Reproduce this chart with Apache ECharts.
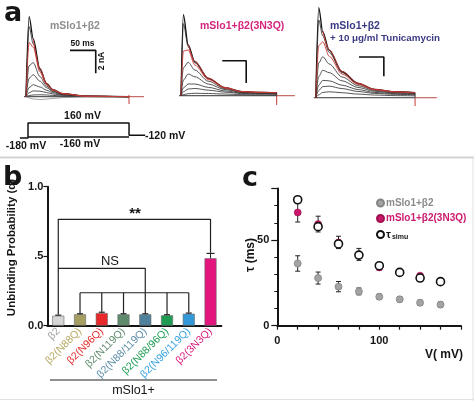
<!DOCTYPE html>
<html><head><meta charset="utf-8">
<script src="https://cdn.jsdelivr.net/npm/echarts/dist/echarts.min.js"></script>
<style>html,body{margin:0;padding:0;background:#fff}#c{width:474px;height:401px}</style>
</head><body><div id="c"></div>
<script>
// ---------- Panel a: current traces (ms, nA) ----------
const P1_T = [0, 6, 14, 27, 40, 52, 72, 116, 200];
const P1_TRACES = [
  [0, 6.96, 5.04, 2.43, 1.13, 0.61, 0.26, 0.04, 0],
  [0, 6.10, 4.60, 2.30, 1.08, 0.58, 0.25, 0.04, 0],
  [0, 2.70, 2.96, 1.75, 0.92, 0.50, 0.22, 0.04, 0],
  [0, 1.60, 1.91, 1.35, 0.78, 0.44, 0.20, 0.04, 0],
  [0, 0.80, 1.04, 0.85, 0.56, 0.35, 0.17, 0.03, 0],
  [0, 0.35, 0.50, 0.48, 0.36, 0.24, 0.13, 0.03, 0],
  [0, 0.10, 0.15, 0.17, 0.15, 0.11, 0.07, 0.02, 0],
  [0, -0.10, -0.20, -0.25, -0.20, -0.15, -0.08, -0.02, 0]
];
const P1_RED = [
  [0, 4.70, 4.30, 2.15, 1.05, 0.56, 0.24, 0.04, 0],
  [null, null, 5.00, 2.45, 1.15, 0.62, 0.27, 0.05, 0]
];
const P2_T = [0, 5, 15, 29, 57, 92, 127, 165, 200];
const P2_TRACES = [
  [0, 7.26, 4.55, 3.05, 1.56, 0.72, 0.36, 0.30, 0.27],
  [0, 6.46, 4.40, 2.95, 1.52, 0.71, 0.36, 0.30, 0.27],
  [0, 2.50, 3.00, 2.30, 1.30, 0.63, 0.33, 0.27, 0.24],
  [0, 1.40, 1.95, 1.70, 1.05, 0.55, 0.30, 0.25, 0.22],
  [0, 0.70, 1.05, 1.05, 0.75, 0.43, 0.25, 0.20, 0.18],
  [0, 0.35, 0.60, 0.65, 0.50, 0.32, 0.20, 0.16, 0.14],
  [0, 0.10, 0.18, 0.22, 0.20, 0.15, 0.10, 0.08, 0.07]
];
const P2_RED = [
  [0, 4.00, 4.10, 2.75, 1.45, 0.68, 0.35, 0.29, 0.26],
  [null, null, 4.60, 3.08, 1.58, 0.74, 0.38, 0.31, 0.28]
];
const P3_T = [0, 6, 14, 27, 53, 85, 118, 160, 200];
const P3_TRACES = [
  [0, 9.33, 6.84, 4.94, 2.69, 1.49, 0.87, 0.62, 0.52],
  [0, 8.05, 6.40, 4.70, 2.60, 1.45, 0.85, 0.61, 0.51],
  [0, 3.60, 4.25, 3.50, 2.15, 1.25, 0.76, 0.55, 0.47],
  [0, 2.20, 2.85, 2.60, 1.75, 1.07, 0.67, 0.50, 0.43],
  [0, 1.30, 1.80, 1.75, 1.30, 0.85, 0.55, 0.42, 0.37],
  [0, 0.75, 1.15, 1.20, 0.95, 0.65, 0.45, 0.35, 0.31],
  [0, 0.30, 0.55, 0.62, 0.52, 0.38, 0.28, 0.22, 0.20]
];
const P3_RED = [
  [0, 5.40, 5.80, 4.30, 2.45, 1.38, 0.82, 0.59, 0.50],
  [null, null, 6.90, 4.98, 2.72, 1.51, 0.88, 0.63, 0.53]
];
const STEP_MS = 200;
const TAIL_END = [229, 238, 244];
const TAIL_SPIKE = [[0.15, -0.64], [0, -0.83], [0, -0.86]];
// scale bars: 50 ms, 2 nA ; anchor (ms, nA) of the left end
const SCALE_BAR_MS = 50, SCALE_BAR_NA = 2;
const SCALE_ANCHOR = [[85.4, 4.03], [86.3, 3.14], [87.1, 4.22]];
// voltage protocol (ms, mV)
const PROT_T = [-16, 0, 0, 200, 200, 232];
const PROT_V = [-180, -180, 160, 160, -120, -120];
const PROT_LOW = -160;

// ---------- Panel b ----------
const CATS = ['β2','β2(N88Q)','β2(N96Q)','β2(N119Q)','β2(N88/119Q)','β2(N88/96Q)','β2(N96/119Q)','β2(3N3Q)'];
const Q_VALUES = [0.072, 0.082, 0.091, 0.082, 0.082, 0.075, 0.086, 0.485];
const Q_ERRORS = [0.004, 0.004, 0.006, 0.004, 0.004, 0.004, 0.005, 0.035];
const BAR_COLORS = ['#d6d6d6','#a59e63','#e8282a','#5f8b6d','#4f809c','#1e9d52','#3399d8','#e3167e'];
const LABEL_COLORS = ['#a0a0a0','#b5a862','#e52b2b','#5f8b6d','#5d8da8','#1e9d52','#3aa2de','#d8167b'];
const SIG_STAR_LEVEL = 0.765, NS_UPPER_LEVEL = 0.413, NS_LOWER_LEVEL = 0.237;

// ---------- Panel c ----------
const V_MV = [20, 40, 60, 80, 100, 120, 140, 160];
const TAU_WT = [36.3, 27.8, 22.8, 20.0, 16.9, 15.4, 13.4, 12.3];
const TAU_WT_ERR = [4.5, 3.5, 3.0, 2.0, 1.5, 1.5, 1.5, 1.5];
const TAU_3N3Q = [66.1, 59.3, 48.6, 41.6, 34.0, 31.1, 29.2, 25.8];
const TAU_3N3Q_ERR = [5.6, 4.6, 3.6, 3.5, 1.5, 1.2, 1.0, 1.0];
const TAU_SIMU = [73.5, 57.8, 47.7, 41.2, 35.0, 31.1, 27.8, 25.7];

const F = '"Liberation Sans", Arial, sans-serif';
const BLACK = '#151515';
const series = [];

function pairs(t, v) { return t.map((x, i) => [x, v[i]]); }

function tracePanel(g, T, traces, reds, tailEnd, spike, anchor) {
  traces.forEach((tr, k) => {
    series.push({ type: 'line', xAxisIndex: g, yAxisIndex: g, data: pairs(T, tr), symbol: 'none', smooth: 0.3, smoothMonotone: 'x',
      lineStyle: { color: k === 0 ? '#111' : (tr[3] < 0 ? '#888' : '#2a2a2a'), width: k === 0 ? 1.3 : 0.8 }, silent: true, z: 3 });
  });
  reds.forEach(tr => {
    series.push({ type: 'line', xAxisIndex: g, yAxisIndex: g, data: pairs(T, tr), symbol: 'none', smooth: 0.3, smoothMonotone: 'x',
      lineStyle: { color: '#cc3a35', width: 0.9 }, silent: true, z: 4 });
  });
  const endVal = traces[0][traces[0].length - 1];
  series.push({ type: 'line', xAxisIndex: g, yAxisIndex: g, symbol: 'none', silent: true, z: 2,
    data: [[-4, 0], [STEP_MS, 0], [STEP_MS, endVal]], lineStyle: { color: '#333', width: 1 } });
  series.push({ type: 'line', xAxisIndex: g, yAxisIndex: g, symbol: 'none', silent: true, z: 2,
    data: [[STEP_MS, 0], [tailEnd, 0]], lineStyle: { color: '#b54a45', width: 1 } });
  series.push({ type: 'line', xAxisIndex: g, yAxisIndex: g, symbol: 'none', silent: true, z: 2,
    data: [[STEP_MS, spike[0]], [STEP_MS, spike[1]]], lineStyle: { color: '#c23a35', width: 1 } });
  series.push({ type: 'line', xAxisIndex: g, yAxisIndex: g, symbol: 'none', silent: true, z: 5,
    data: [[anchor[0], anchor[1]], [anchor[0] + SCALE_BAR_MS, anchor[1]], [anchor[0] + SCALE_BAR_MS, anchor[1] - SCALE_BAR_NA]],
    lineStyle: { color: '#111', width: 1.6 } });
}
tracePanel(0, P1_T, P1_TRACES, P1_RED, TAIL_END[0], TAIL_SPIKE[0], SCALE_ANCHOR[0]);
tracePanel(1, P2_T, P2_TRACES, P2_RED, TAIL_END[1], TAIL_SPIKE[1], SCALE_ANCHOR[1]);
tracePanel(2, P3_T, P3_TRACES, P3_RED, TAIL_END[2], TAIL_SPIKE[2], SCALE_ANCHOR[2]);

// protocol
series.push({ type: 'line', xAxisIndex: 3, yAxisIndex: 3, symbol: 'none', silent: true,
  data: pairs(PROT_T, PROT_V), lineStyle: { color: '#111', width: 1.5 } });
series.push({ type: 'line', xAxisIndex: 3, yAxisIndex: 3, symbol: 'none', silent: true,
  data: [[0, PROT_LOW], [STEP_MS, PROT_LOW]], lineStyle: { color: '#111', width: 1.5 } });

// panel b bars
series.push({ type: 'bar', xAxisIndex: 4, yAxisIndex: 4, barWidth: 12, silent: true,
  data: Q_VALUES.map((v, i) => ({ value: v, itemStyle: { color: BAR_COLORS[i], borderColor: '#6a6a6a', borderWidth: 0.6 } })) });
series.push({ type: 'custom', xAxisIndex: 4, yAxisIndex: 4, silent: true, z: 6,
  data: Q_VALUES.map((v, i) => [i, v, Q_ERRORS[i]]),
  renderItem: (p, api) => {
    const i = api.value(0), v = api.value(1), e = api.value(2);
    const a = api.coord([i, v]), b = api.coord([i, v + e]);
    const w = i === 7 ? 4 : 3;
    return { type: 'group', children: [
      { type: 'line', shape: { x1: a[0], y1: a[1], x2: b[0], y2: b[1] }, style: { stroke: '#222', lineWidth: 1 } },
      { type: 'line', shape: { x1: b[0] - w, y1: b[1], x2: b[0] + w, y2: b[1] }, style: { stroke: '#222', lineWidth: 1.2 } }
    ] };
  } });
function bracket(d) {
  series.push({ type: 'line', xAxisIndex: 4, yAxisIndex: 4, symbol: 'none', silent: true, z: 7,
    data: d, lineStyle: { color: '#222', width: 1.2 } });
}
bracket([[0, Q_VALUES[0] + Q_ERRORS[0] + 0.005], [0, SIG_STAR_LEVEL], [7, SIG_STAR_LEVEL], [7, Q_VALUES[7] + Q_ERRORS[7] + 0.005]]);
bracket([[0, NS_UPPER_LEVEL], [3.9, NS_UPPER_LEVEL], [3.9, NS_LOWER_LEVEL]]);
bracket([[1, NS_LOWER_LEVEL], [6, NS_LOWER_LEVEL]]);
for (let i = 1; i <= 6; i++) bracket([[i, NS_LOWER_LEVEL], [i, Q_VALUES[i] + Q_ERRORS[i] + 0.004]]);

// panel c
function errSeries(vals, errs, z) {
  series.push({ type: 'custom', xAxisIndex: 5, yAxisIndex: 5, silent: true, z: z,
    data: V_MV.map((x, i) => [x, vals[i], errs[i]]),
    renderItem: (p, api) => {
      const x = api.value(0), y = api.value(1), e = api.value(2);
      const a = api.coord([x, y + e]), b = api.coord([x, y - e]);
      const w = 2.5;
      return { type: 'group', children: [
        { type: 'line', shape: { x1: a[0], y1: a[1], x2: b[0], y2: b[1] }, style: { stroke: '#222', lineWidth: 1 } },
        { type: 'line', shape: { x1: a[0] - w, y1: a[1], x2: a[0] + w, y2: a[1] }, style: { stroke: '#222', lineWidth: 1 } },
        { type: 'line', shape: { x1: b[0] - w, y1: b[1], x2: b[0] + w, y2: b[1] }, style: { stroke: '#222', lineWidth: 1 } }
      ] };
    } });
}
errSeries(TAU_WT, TAU_WT_ERR, 3);
errSeries(TAU_3N3Q, TAU_3N3Q_ERR, 3);
series.push({ name: 'mSlo1+β2', type: 'scatter', xAxisIndex: 5, yAxisIndex: 5, symbol: 'circle', symbolSize: 7, z: 4,
  data: pairs(V_MV, TAU_WT), itemStyle: { color: '#a3a3a3', borderColor: '#858585', borderWidth: 0.8, opacity: 1 } });
series.push({ name: 'mSlo1+β2(3N3Q)', type: 'scatter', xAxisIndex: 5, yAxisIndex: 5, symbol: 'circle', symbolSize: 7, z: 4,
  data: pairs(V_MV, TAU_3N3Q), itemStyle: { color: '#c8186b', borderColor: '#a01050', borderWidth: 0.6, opacity: 1 } });
series.push({ name: 'τsimu', type: 'scatter', xAxisIndex: 5, yAxisIndex: 5, symbol: 'circle', symbolSize: 8, z: 5,
  data: pairs(V_MV, TAU_SIMU), itemStyle: { color: '#ffffff', borderColor: '#111', borderWidth: 1.6, opacity: 1 } });

const hiddenX = (g, min, max) => ({ type: 'value', gridIndex: g, min, max, show: false });
const hiddenY = (g, min, max) => ({ type: 'value', gridIndex: g, min, max, show: false });

const axisLineBold = { show: true, lineStyle: { color: BLACK, width: 2 } };

const T = (text, x, y, o) => Object.assign({ type: 'text', x, y, silent: true,
  style: Object.assign({ text, fill: BLACK, font: 'bold 10.5px ' + F, textAlign: 'left', textVerticalAlign: 'middle', verticalAlign: 'middle' }, (o && o.style) || {}) },
  o && o.rotation ? { rotation: o.rotation } : {});
const L = (x1, y1, x2, y2, c, w) => ({ type: 'line', silent: true, shape: { x1, y1, x2, y2 }, style: { stroke: c, lineWidth: w } });

const option = {
  animation: false,
  backgroundColor: '#fff',
  grid: [
    { left: 20.85, top: 10.45, width: 128.75, height: 97.75 },
    { left: 176.2, top: 6.5, width: 124.4, height: 102.6 },
    { left: 310.8, top: 3.13, width: 129.1, height: 106.2 },
    { left: 12.85, top: 121.25, width: 146.5, height: 17.5 },
    { left: 47.4, top: 186.7, width: 174, height: 139 },
    { left: 277.3, top: 188.6, width: 183.6, height: 137.1 }
  ],
  xAxis: [
    hiddenX(0, -10, 240), hiddenX(1, -10, 250), hiddenX(2, -10, 250), hiddenX(3, -30, 260),
    { type: 'category', gridIndex: 4, data: CATS, axisLine: axisLineBold, axisTick: { show: false },
      axisLabel: { rotate: 45, margin: 4, interval: 0, fontFamily: F, fontSize: 10.5, color: (v, i) => LABEL_COLORS[i] } },
    { type: 'value', gridIndex: 5, position: 'bottom', min: 0, max: 180, interval: 20, splitLine: { show: false }, axisLine: axisLineBold,
      axisTick: { show: true, length: 4, lineStyle: { color: BLACK, width: 1.2 } },
      axisLabel: { margin: 10, fontFamily: F, fontSize: 11, fontWeight: 'bold', color: BLACK,
        formatter: v => (v === 0 || v === 100) ? String(v) : '' } }
  ],
  yAxis: [
    hiddenY(0, -1, 7.5), hiddenY(1, -1.2, 8), hiddenY(2, -1.2, 9.8), hiddenY(3, -200, 200),
    { type: 'value', gridIndex: 4, min: 0, max: 1, interval: 0.5, splitLine: { show: false }, axisLine: axisLineBold,
      axisTick: { show: true, length: 4, lineStyle: { color: BLACK, width: 1.2 } },
      axisLabel: { margin: 4, fontFamily: F, fontSize: 11, fontWeight: 'bold', color: BLACK,
        formatter: v => v === 0 ? '0.0' : (v === 0.5 ? '.5' : '1.0') } },
    { type: 'value', gridIndex: 5, position: 'left', min: 0, max: 80, interval: 10, splitLine: { show: false }, axisLine: axisLineBold,
      axisTick: { show: true, length: 3, lineStyle: { color: BLACK, width: 1 } }, axisLabel: { show: false } },
    { type: 'value', gridIndex: 5, position: 'left', offset: 0, min: 0, max: 80, interval: 50, splitLine: { show: false }, axisLine: { show: false },
      axisTick: { show: true, length: 6, lineStyle: { color: BLACK, width: 1.2 } },
      axisLabel: { margin: 8, fontFamily: F, fontSize: 11, fontWeight: 'bold', color: BLACK,
        formatter: v => (v === 0 || v === 50) ? String(v) : '' } }
  ],
  legend: {
    data: [
      { name: 'mSlo1+β2', textStyle: { color: '#8c8c8c' } },
      { name: 'mSlo1+β2(3N3Q)', textStyle: { color: '#cc1a6e' } },
      { name: 'τsimu', textStyle: { color: BLACK } }
    ],
    orient: 'vertical', left: 376, top: 198, padding: 0, itemWidth: 7, itemHeight: 7, itemGap: 5.5, selectedMode: false,
    textStyle: { fontFamily: F, fontSize: 10, fontWeight: 'bold', padding: [0, 0, 0, -3],
      rich: { t: { fontFamily: F, fontSize: 11, fontWeight: 'bold', color: BLACK },
              s: { fontFamily: F, fontSize: 7, fontWeight: 'bold', color: BLACK, padding: [5, 0, 0, 1] } } },
    formatter: n => n === 'τsimu' ? '{t|τ}{s|simu}' : n
  },
  graphic: [
    // frame / separators
    L(0, 157.5, 474, 157.5, '#d4d4d4', 2),
    L(473, 158, 473, 401, '#e2e2e2', 1),
    L(0, 399.5, 474, 399.5, '#e2e2e2', 1),
    // panel labels
    T('a', 4, 14, { style: { font: 'bold 27px "DejaVu Sans", sans-serif' } }),
    T('b', 3, 178, { style: { font: 'bold 27px "DejaVu Sans", sans-serif' } }),
    T('c', 242, 179, { style: { font: 'bold 27px "DejaVu Sans", sans-serif' } }),
    // panel a titles
    T('mSlo1+β2', 50, 26, { style: { fill: '#8f8f8f' } }),
    T('mSlo1+β2(3N3Q)', 200, 26, { style: { fill: '#d4257c' } }),
    T('mSlo1+β2', 330, 26, { style: { fill: '#3b3b85' } }),
    T('+ 10 μg/ml Tunicamycin', 330, 38.5, { style: { fill: '#3b3b85', font: 'bold 9.8px ' + F } }),
    T('50 ms', 82.5, 44, { style: { textAlign: 'center', font: 'bold 8.5px ' + F } }),
    T('2 nA', 101.5, 61, { rotation: Math.PI / 2, style: { textAlign: 'center', font: 'bold 8.5px ' + F } }),
    // protocol labels
    T('160 mV', 82.5, 116.5, { style: { textAlign: 'center' } }),
    T('-160 mV', 80, 144, { style: { textAlign: 'center' } }),
    T('-180 mV', 26, 146, { style: { textAlign: 'center' } }),
    T('-120 mV', 145, 136.5, {}),
    // panel b
    T('Unbinding Probability (q)', 12, 247.5, { rotation: Math.PI / 2, style: { textAlign: 'center', font: 'bold 11.5px ' + F } }),
    T('**', 135, 214, { style: { textAlign: 'center', font: 'bold 15px ' + F } }),
    T('NS', 110, 261.5, { style: { textAlign: 'center', font: '13px ' + F } }),
    L(50, 380, 217, 380, '#222', 1.2),
    T('mSlo1+', 133.5, 390.5, { style: { textAlign: 'center', font: '12.5px ' + F } }),
    // panel c axis titles
    T('τ (ms)', 251, 255, { rotation: Math.PI / 2, style: { textAlign: 'center', font: 'bold 12px ' + F } }),
    T('V( mV)', 444, 355, { style: { textAlign: 'center', font: 'bold 12px ' + F } })
  ],
  series
};
const chart = echarts.init(document.getElementById('c'), null, { renderer: 'canvas' });
chart.setOption(option);
</script></body></html>
